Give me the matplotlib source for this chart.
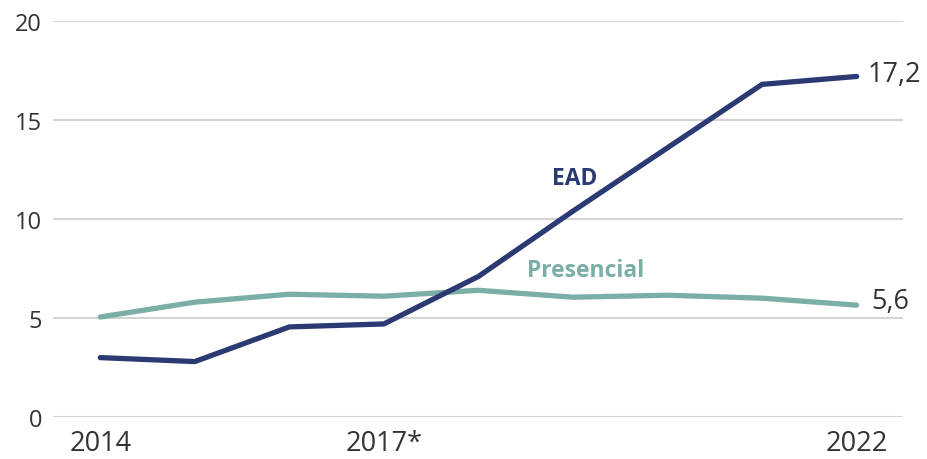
import matplotlib
matplotlib.use("Agg")
import matplotlib.pyplot as plt

years = [2014, 2015, 2016, 2017, 2018, 2019, 2020, 2021, 2022]
ead = [3.0, 2.8, 4.55, 4.7, 7.1, 10.4, 13.6, 16.8, 17.2]
presencial = [5.05, 5.8, 6.2, 6.1, 6.4, 6.05, 6.15, 6.0, 5.65]
tick_years = [2014, 2017, 2022]
tick_labels = ["2014", "2017*", "2022"]

NAVY = "#2b3a73"
TEAL = "#7aaea6"
TEXT = "#333333"

plt.rcParams["font.family"] = ["Open Sans", "DejaVu Sans"]

fig = plt.figure(figsize=(9.28, 4.6), dpi=100)
ax = fig.add_axes([53 / 928, 42 / 460, 850 / 928, 396 / 460])

ax.plot(years, presencial, color=TEAL, linewidth=3.8, solid_capstyle="round", clip_on=False)
ax.plot(years, ead, color=NAVY, linewidth=3.8, solid_capstyle="round", clip_on=False)

ax.set_xlim(2013.5, 2022.49)
ax.set_ylim(0, 20)
ax.set_yticks([0, 5, 10, 15, 20])
ax.set_xticks(tick_years, tick_labels)
ax.grid(axis="y", color="#d4d4d4", linewidth=1.5)
ax.set_axisbelow(True)
for side in ax.spines.values():
    side.set_visible(False)
ax.tick_params(axis="both", length=0, colors=TEXT)
ax.tick_params(axis="y", labelsize=17, pad=8)
ax.tick_params(axis="x", labelsize=19.5, pad=9)

ax.text(2019.02, 12.05, "EAD", color=NAVY, fontsize=16.5, fontweight="bold", ha="center", va="center")
ax.text(2019.13, 7.4, "Presencial", color=TEAL, fontsize=16.5, fontweight="bold", ha="center", va="center")
ax.text(years[-1] + 0.12, ead[-1] + 0.1, "17,2", color=TEXT, fontsize=19.5, ha="left", va="center")
ax.text(years[-1] + 0.16, presencial[-1] + 0.2, "5,6", color=TEXT, fontsize=19.5, ha="left", va="center")

fig.savefig("out.png", facecolor="white")
